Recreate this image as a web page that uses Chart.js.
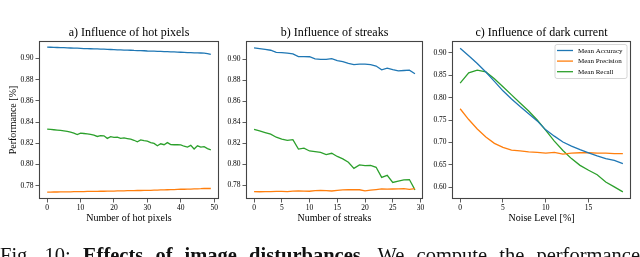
<!DOCTYPE html>
<html lang="en">
<head>
    <meta charset="UTF-8">
    <title>Effects of image disturbances</title>
    <style>
        html, body {
            margin: 0;
            padding: 0;
            background: white;
            width: 640px;
            height: 257px;
            overflow: hidden;
        }
        .panel {
            position: absolute;
            left: 0;
            top: 0;
            width: 640px;
            height: 257px;
        }
        .caption {
            position: absolute;
            left: 0;
            top: 245px;
            width: 640px;
            font-family: "Liberation Serif", serif;
            font-size: 20.5px;
            line-height: 20px;
            text-align: justify;
            text-align-last: justify;
            color: #111;
        }
    </style>
</head>
<body>
    <div class="panel"><canvas id="chartA"></canvas></div>
    <div class="panel"><canvas id="chartB"></canvas></div>
    <div class="panel"><canvas id="chartC"></canvas></div>
    <div class="caption">Fig. 10: <b>Effects of image disturbances.</b> We compute the performance</div>

    <script src="https://cdn.jsdelivr.net/npm/chart.js"></script>
    <script>
        // --- data ---
        const seriesNames = ['Mean Accuracy', 'Mean Precision', 'Mean Recall'];

        // a) hot pixels
        const hotPixels = [0,1,2,3,4,5,6,7,8,9,10,11,12,13,14,15,16,17,18,19,20,21,22,23,24,
                           25,26,27,28,29,30,31,32,33,34,35,36,37,38,39,40,41,42,43,44,45,46,47,48,49];
        const accHot = [0.9105,0.9104,0.9103,0.9102,0.9101,0.9100,0.9098,0.9097,0.9096,0.9095,
                        0.9094,0.9092,0.9091,0.9090,0.9089,0.9088,0.9086,0.9086,0.9084,0.9083,
                        0.9082,0.9080,0.9080,0.9078,0.9077,0.9076,0.9074,0.9073,0.9072,0.9071,
                        0.9069,0.9068,0.9067,0.9066,0.9065,0.9063,0.9062,0.9061,0.9060,0.9058,
                        0.9057,0.9056,0.9054,0.9053,0.9052,0.9051,0.9050,0.9048,0.9045,0.9036];
        const precHot = [0.7740,0.7740,0.7741,0.7741,0.7742,0.7742,0.7743,0.7743,0.7744,0.7744,
                         0.7745,0.7745,0.7746,0.7746,0.7747,0.7747,0.7748,0.7748,0.7749,0.7749,
                         0.7750,0.7751,0.7751,0.7752,0.7753,0.7753,0.7754,0.7755,0.7755,0.7756,
                         0.7757,0.7757,0.7758,0.7759,0.7760,0.7761,0.7762,0.7763,0.7764,0.7766,
                         0.7767,0.7767,0.7768,0.7768,0.7770,0.7771,0.7772,0.7774,0.7775,0.7774];
        const recHot = [0.8333,0.8330,0.8327,0.8324,0.8321,0.8317,0.8312,0.8305,0.8295,0.8282,
                        0.8295,0.8292,0.8288,0.8284,0.8276,0.8264,0.8272,0.8270,0.8246,0.8262,
                        0.8256,0.8258,0.8246,0.8250,0.8244,0.8238,0.8228,0.8214,0.8232,0.8224,
                        0.8220,0.8206,0.8198,0.8176,0.8195,0.8186,0.8206,0.8188,0.8186,0.8187,
                        0.8185,0.8172,0.8164,0.8180,0.8146,0.8176,0.8163,0.8168,0.8150,0.8138];

        // b) streaks
        const streaks = [0,1,2,3,4,5,6,7,8,9,10,11,12,13,14,15,16,17,18,19,20,21,22,23,24,25,26,27,28,29];
        const accStreaks = [0.9108,0.9102,0.9095,0.9086,0.9066,0.9064,0.9058,0.9052,0.9025,0.9025,
                            0.9024,0.9004,0.9000,0.8999,0.9006,0.8988,0.8978,0.8962,0.8950,0.8953,
                            0.8953,0.8950,0.8936,0.8900,0.8916,0.8902,0.8890,0.8893,0.8896,0.8862];
        const precStreaks = [0.7740,0.7739,0.7741,0.7741,0.7742,0.7742,0.7741,0.7745,0.7748,0.7745,
                             0.7744,0.7750,0.7752,0.7750,0.7746,0.7753,0.7756,0.7758,0.7760,0.7758,
                             0.7748,0.7755,0.7760,0.7766,0.7764,0.7765,0.7766,0.7768,0.7762,0.7768];
        const recStreaks = [0.8333,0.8318,0.8303,0.8287,0.8258,0.8240,0.8228,0.8235,0.8145,0.8154,
                            0.8127,0.8120,0.8113,0.8093,0.8105,0.8075,0.8052,0.8020,0.7962,0.7994,
                            0.7988,0.7990,0.7972,0.7876,0.7895,0.7828,0.7840,0.7852,0.7855,0.7757];

        // c) dark current
        const noiseLevel = [0,1,2,3,4,5,6,7,8,9,10,11,12,13,14,15,16,17,18,19];
        const accNoise = [0.910,0.893,0.876,0.857,0.836,0.815,0.797,0.780,0.764,0.748,
                          0.728,0.714,0.701,0.692,0.684,0.677,0.670,0.664,0.660,0.653];
        const precNoise = [0.775,0.751,0.730,0.712,0.698,0.689,0.683,0.681,0.679,0.678,
                           0.676,0.678,0.674,0.676,0.677,0.677,0.676,0.676,0.675,0.675];
        const recNoise = [0.832,0.855,0.861,0.857,0.842,0.824,0.806,0.788,0.770,0.750,
                          0.727,0.703,0.682,0.664,0.649,0.638,0.628,0.612,0.601,0.590];

        const colors = ['#1f77b4', '#ff7f0e', '#2ca02c'];
        const serif = '"Liberation Serif", "Times New Roman", serif';

        // frame, panel title and (optionally) legend
        const panelDeco = {
            id: 'panelDeco',
            afterDraw(chart, args, opts) {
                const { ctx, chartArea: a } = chart;
                ctx.save();
                ctx.strokeStyle = '#444';
                ctx.lineWidth = 1.1;
                ctx.strokeRect(Math.round(a.left) + 0.5, Math.round(a.top) + 0.5,
                               Math.round(a.right - a.left) - 1, Math.round(a.bottom - a.top) - 1);

                ctx.fillStyle = '#000';
                ctx.font = '12px ' + serif;
                ctx.textAlign = 'center';
                ctx.textBaseline = 'middle';
                ctx.fillText(opts.title, (a.left + a.right) / 2, a.top - 8);

                if (opts.legend) {
                    const x0 = a.right - 76, y0 = a.top + 3.5, w = 72, h = 34;
                    ctx.fillStyle = 'rgba(255,255,255,0.85)';
                    ctx.strokeStyle = '#ccc';
                    ctx.lineWidth = 0.8;
                    ctx.beginPath();
                    ctx.roundRect(x0, y0, w, h, 2);
                    ctx.fill();
                    ctx.stroke();
                    ctx.font = '7px ' + serif;
                    ctx.textAlign = 'left';
                    chart.data.datasets.forEach((ds, i) => {
                        const y = y0 + 6 + i * 10.6;
                        ctx.strokeStyle = ds.borderColor;
                        ctx.lineWidth = 1.3;
                        ctx.beginPath();
                        ctx.moveTo(x0 + 2, y);
                        ctx.lineTo(x0 + 18, y);
                        ctx.stroke();
                        ctx.fillStyle = '#000';
                        ctx.fillText(ds.label, x0 + 23, y + 0.5);
                    });
                }
                ctx.restore();
            }
        };

        function makePanel(id, xs, series, cfg) {
            const ctx = document.getElementById(id).getContext('2d');
            return new Chart(ctx, {
                type: 'line',
                data: {
                    datasets: series.map((vals, i) => ({
                        label: seriesNames[i],
                        data: xs.map((x, j) => ({ x: x, y: vals[j] })),
                        borderColor: colors[i],
                        backgroundColor: colors[i],
                        borderWidth: 1.3,
                        pointRadius: 0,
                        tension: 0,
                        fill: false
                    }))
                },
                options: {
                    responsive: true,
                    maintainAspectRatio: false,
                    animation: false,
                    layout: { padding: cfg.padding },
                    plugins: {
                        legend: { display: false },
                        tooltip: { enabled: false },
                        panelDeco: { title: cfg.title, legend: cfg.legend }
                    },
                    scales: {
                        x: {
                            type: 'linear',
                            min: cfg.xMin, max: cfg.xMax,
                            afterFit(s) { s.height = 25; },
                            grid: { display: true, drawOnChartArea: false, tickLength: 3.5, color: '#333', lineWidth: 0.8 },
                            border: { display: false },
                            ticks: {
                                stepSize: cfg.xStep, includeBounds: false, padding: 1.5,
                                color: '#000', font: { family: serif, size: 7.5 }, maxRotation: 0
                            },
                            title: {
                                display: true, text: cfg.xTitle, color: '#000',
                                font: { family: serif, size: 10 }, padding: 0
                            }
                        },
                        y: {
                            min: cfg.yMin, max: cfg.yMax,
                            afterFit(s) { s.width = cfg.yWidth; },
                            grid: { display: true, drawOnChartArea: false, tickLength: 3.5, color: '#333', lineWidth: 0.8 },
                            border: { display: false },
                            ticks: {
                                stepSize: cfg.yStep, includeBounds: false, padding: 2,
                                color: '#000', font: { family: serif, size: 7.5 },
                                callback: v => v.toFixed(2)
                            },
                            title: {
                                display: !!cfg.yTitle, text: cfg.yTitle || '', color: '#000',
                                font: { family: serif, size: 10 }, padding: 0
                            }
                        }
                    }
                },
                plugins: [panelDeco]
            });
        }

        makePanel('chartA', hotPixels, [accHot, precHot, recHot], {
            title: 'a) Influence of hot pixels',
            xTitle: 'Number of hot pixels', yTitle: 'Performance [%]',
            xMin: -2.45, xMax: 51.45, xStep: 10,
            yMin: 0.7675, yMax: 0.9163, yStep: 0.02,
            yWidth: 32,
            padding: { left: 7, right: 421, top: 41, bottom: 33 },
            legend: false
        });

        makePanel('chartB', streaks, [accStreaks, precStreaks, recStreaks], {
            title: 'b) Influence of streaks',
            xTitle: 'Number of streaks',
            xMin: -1.45, xMax: 30.45, xStep: 5,
            yMin: 0.767, yMax: 0.9174, yStep: 0.02,
            yWidth: 24,
            padding: { left: 222, right: 217, top: 41, bottom: 33 },
            legend: false
        });

        makePanel('chartC', noiseLevel, [accNoise, precNoise, recNoise], {
            title: 'c) Influence of dark current',
            xTitle: 'Noise Level [%]',
            xMin: -0.95, xMax: 19.95, xStep: 5,
            yMin: 0.574, yMax: 0.926, yStep: 0.05,
            yWidth: 24,
            padding: { left: 428, right: 9, top: 41, bottom: 33 },
            legend: true
        });
    </script>
</body>
</html>
